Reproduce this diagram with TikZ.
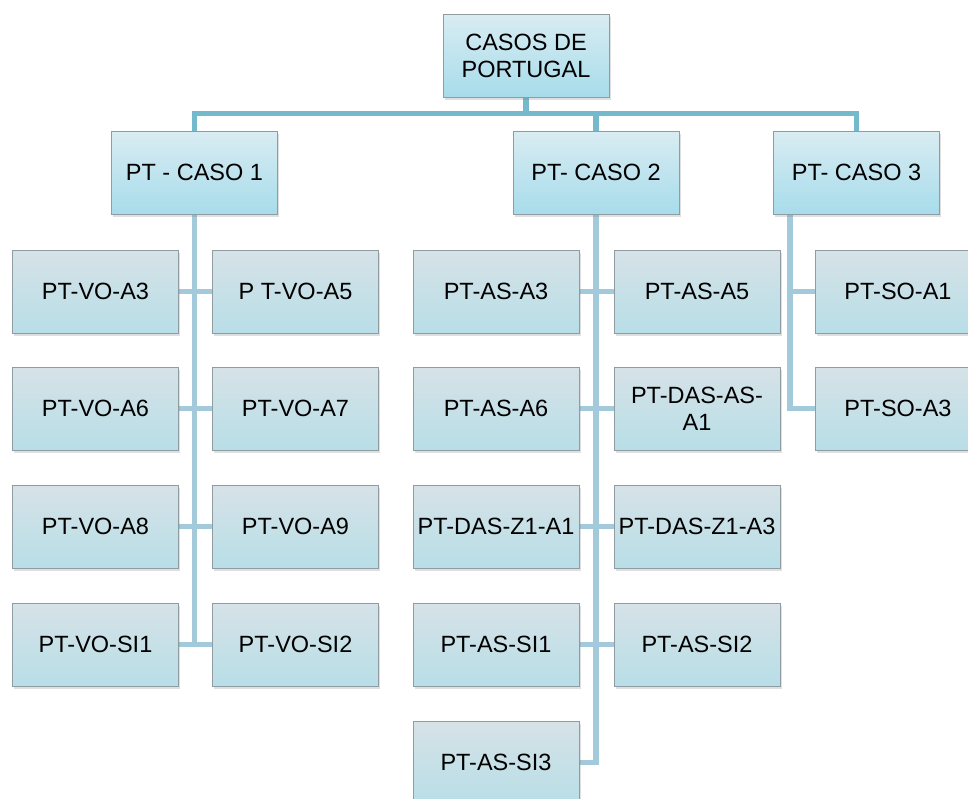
\documentclass[tikz,border=0pt]{standalone}
\usepackage{fontspec}
\setmainfont{Liberation Sans}
\usetikzlibrary{shadows,backgrounds}
\definecolor{busc}{HTML}{74B9CC}
\definecolor{linec}{HTML}{A2CADA}
\definecolor{bordc}{HTML}{8F9CA1}
\definecolor{topA}{HTML}{D9ECF2}
\definecolor{topB}{HTML}{A7DCEB}
\definecolor{leafA}{HTML}{D6E2E7}
\definecolor{leafB}{HTML}{B8DEE7}
\tikzset{
  boxbase/.style={draw=bordc, line width=0.9pt, minimum width=166pt, minimum height=83pt,
    inner sep=0pt, align=center, font=\fontsize{23.5}{27}\selectfont,
    drop shadow={opacity=0.25, shadow xshift=1.5pt, shadow yshift=-2.5pt}},
  headbox/.style={boxbase, top color=topA, bottom color=topB},
  leafbox/.style={boxbase, top color=leafA, bottom color=leafB},
  bus/.style={draw=busc, line width=5.5pt},
  link/.style={draw=linec, line width=5.5pt}
}
\begin{document}
\begin{tikzpicture}[x=1pt,y=-1pt]
\useasboundingbox (0,0) rectangle (968,798);
\node[headbox] (top) at (526,55.5) {CASOS DE\\PORTUGAL};
\node[headbox] (c1) at (194.5,172.5) {PT - CASO 1};
\node[headbox] (c2) at (596,172.5) {PT- CASO 2};
\node[headbox] (c3) at (856.5,172.5) {PT- CASO 3};
% caso 1
\node[leafbox] (a1) at (95.5,291.5) {PT-VO-A3};
\node[leafbox] (a2) at (295.5,291.5) {P T-VO-A5};
\node[leafbox] (a3) at (95.5,408.5) {PT-VO-A6};
\node[leafbox] (a4) at (295.5,408.5) {PT-VO-A7};
\node[leafbox] (a5) at (95.5,526.5) {PT-VO-A8};
\node[leafbox] (a6) at (295.5,526.5) {PT-VO-A9};
\node[leafbox] (a7) at (95.5,644.5) {PT-VO-SI1};
\node[leafbox] (a8) at (295.5,644.5) {PT-VO-SI2};
% caso 2
\node[leafbox] (b1) at (496,291.5) {PT-AS-A3};
\node[leafbox] (b2) at (697,291.5) {PT-AS-A5};
\node[leafbox] (b3) at (496,408.5) {PT-AS-A6};
\node[leafbox] (b4) at (697,408.5) {PT-DAS-AS-\\A1};
\node[leafbox] (b5) at (496,526.5) {PT-DAS-Z1-A1};
\node[leafbox] (b6) at (697,526.5) {PT-DAS-Z1-A3};
\node[leafbox] (b7) at (496,644.5) {PT-AS-SI1};
\node[leafbox] (b8) at (697,644.5) {PT-AS-SI2};
\node[leafbox] (b9) at (496,762.5) {PT-AS-SI3};
% caso 3
\node[leafbox] (d1) at (898,291.5) {PT-SO-A1};
\node[leafbox] (d2) at (898,408.5) {PT-SO-A3};
\coordinate (busy) at (0,113.5);
\coordinate (t3) at ([xshift=17pt]c3.south west);
\begin{scope}[on background layer]
\draw[bus] (top.south) -- (top.south |- busy);
\draw[bus] (c1.north) -- (c1.north |- busy) -- (c3.north |- busy) -- (c3.north);
\draw[bus] (c2.north) -- (c2.north |- busy);
% caso 1 trunk
\draw[link] (c1.south) -- (c1.south |- a7.east);
\foreach \n in {a1,a3,a5,a7} \draw[link] (\n.east) -- (\n.east -| c1.south);
\foreach \n in {a2,a4,a6,a8} \draw[link] (\n.west) -- (\n.west -| c1.south);
% caso 2 trunk
\draw[link] (c2.south) -- (c2.south |- b9.east) -- (b9.east);
\foreach \n in {b1,b3,b5,b7} \draw[link] (\n.east) -- (\n.east -| c2.south);
\foreach \n in {b2,b4,b6,b8} \draw[link] (\n.west) -- (\n.west -| c2.south);
% caso 3 trunk
\draw[link] (t3) -- (t3 |- d2.west) -- (d2.west);
\draw[link] (d1.west) -- (d1.west -| t3);
\end{scope}
\end{tikzpicture}
\end{document}
